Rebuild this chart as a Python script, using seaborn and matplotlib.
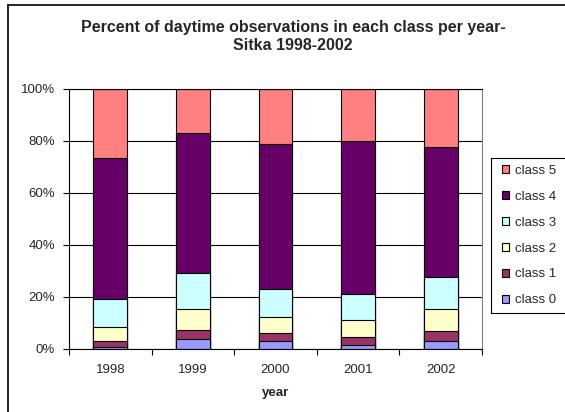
import numpy as np
import pandas as pd
import seaborn as sns
import matplotlib.pyplot as plt
from matplotlib.lines import Line2D

# percent of daytime observations per class
years = ['1998', '1999', '2000', '2001', '2002']
class0 = [0.8, 3.9, 3.1, 1.5, 3.0]
class1 = [2.0, 3.3, 2.8, 2.9, 3.8]
class2 = [5.4, 8.0, 6.4, 6.5, 8.6]
class3 = [10.9, 13.8, 10.7, 10.3, 12.1]
class4 = [54.5, 54.2, 55.9, 58.7, 50.2]
class5 = [26.4, 16.8, 21.1, 20.1, 22.3]
classes = ['class 0', 'class 1', 'class 2', 'class 3', 'class 4', 'class 5']
colors = ['#9999FF', '#993366', '#FFFFCC', '#CCFFFF', '#660066', '#FF8080']
yticks = [0, 20, 40, 60, 80, 100]
ytick_labels = ['0%', '20%', '40%', '60%', '80%', '100%']

sns.set_style('white')
plt.rcParams['font.family'] = ['Liberation Sans', 'DejaVu Sans']

df = pd.DataFrame({'year': years, 'class 0': class0, 'class 1': class1,
                   'class 2': class2, 'class 3': class3, 'class 4': class4,
                   'class 5': class5})
cum = df[classes].cumsum(axis=1)

fig = plt.figure(figsize=(5.65, 4.12), dpi=100)
ax = fig.add_axes([69 / 565, 1 - 348.7 / 412, (482 - 69) / 565, (348.7 - 89) / 412])

# stacked bars: draw the cumulative totals from the top class down
for name, col in zip(classes[::-1], colors[::-1]):
    sns.barplot(x=df['year'], y=cum[name], color=col, saturation=1, width=0.41,
                edgecolor='black', linewidth=0.8, errorbar=None, label=name, ax=ax)

ax.set_xlim(-0.5, 4.5)
ax.set_ylim(0, 100)
ax.set_yticks(yticks)
ax.set_yticklabels(ytick_labels, fontsize=9.5)
ax.set_xticks(range(len(years)))
ax.set_xticklabels(years, fontsize=9.5)
ax.set_xticks(np.arange(-0.5, 5, 1), minor=True)
ax.tick_params(axis='x', which='major', bottom=True, length=0, pad=11)
ax.tick_params(axis='x', which='minor', bottom=True, length=4, width=0.8, color='black')
ax.tick_params(axis='y', left=True, length=4, width=0.8, color='black', pad=6)
ax.yaxis.grid(True, color='black', linewidth=0.8)
ax.set_axisbelow(True)
ax.set_ylabel('')
ax.set_xlabel('year', fontsize=9.5, fontweight='bold', labelpad=8)

for side in ['left', 'bottom', 'top']:
    ax.spines[side].set_color('black')
    ax.spines[side].set_linewidth(0.8)
ax.spines['right'].set_color('#808080')
ax.spines['right'].set_linewidth(0.8)

handles, labels = ax.get_legend_handles_labels()
leg = ax.legend(handles, labels, loc='upper left',
                bbox_to_anchor=(502 / 565, 1 - 165 / 412), bbox_transform=fig.transFigure,
                frameon=False, fontsize=9.5,
                handlelength=0.55, handleheight=0.55, labelspacing=1.05,
                borderpad=0, handletextpad=0.45, borderaxespad=0)

# legend box runs past the right edge of the picture, so only three sides show
bx0, by0, by1 = 491 / 565, 1 - 158 / 412, 1 - 313 / 412
for xs, ys in [([bx0, bx0], [by0, by1]), ([bx0, 1], [by0, by0]), ([bx0, 1], [by1, by1])]:
    fig.add_artist(Line2D(xs, ys, transform=fig.transFigure, color='black', linewidth=0.8))

fig.text(293 / 565, 1 - 36.5 / 412,
         'Percent of daytime observations in each class per year-\nSitka 1998-2002',
         ha='center', va='center', fontsize=11.5, fontweight='bold', linespacing=1.2)

# outer chart border (left and top only are visible)
fig.add_artist(Line2D([8 / 565, 8 / 565], [0, 1 - 5 / 412], transform=fig.transFigure,
                      color='black', linewidth=1.2))
fig.add_artist(Line2D([8 / 565, 1], [1 - 5 / 412, 1 - 5 / 412], transform=fig.transFigure,
                      color='black', linewidth=1.2))

fig.savefig('out.png', dpi=100)
